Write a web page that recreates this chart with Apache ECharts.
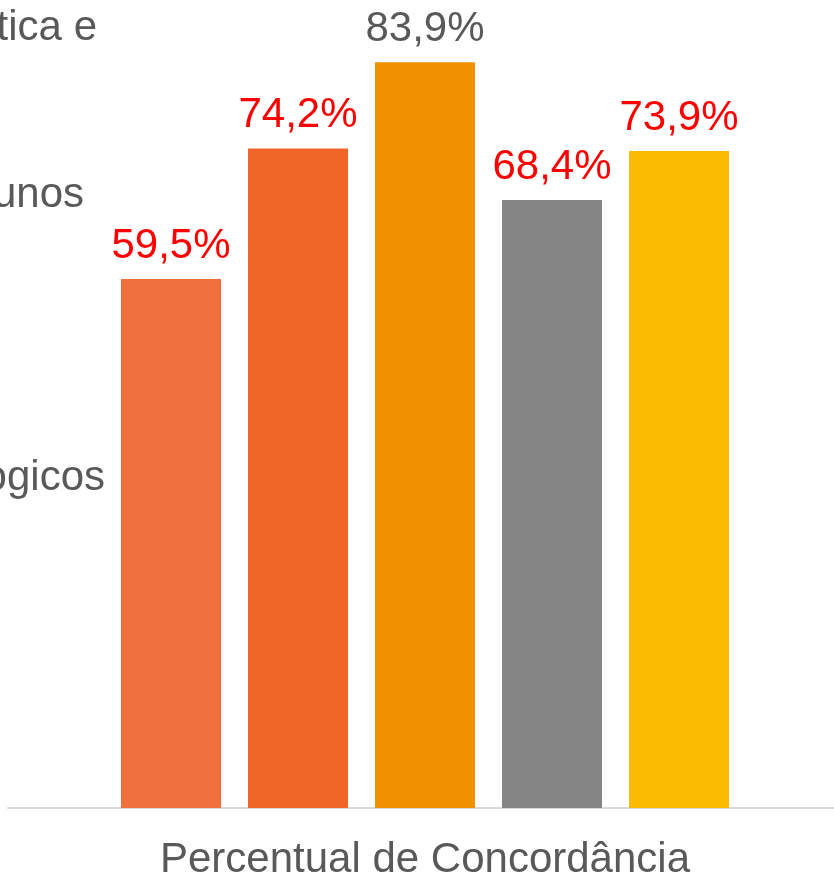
<!DOCTYPE html>
<html>
<head>
<meta charset="utf-8">
<script src="https://cdn.jsdelivr.net/npm/echarts@6/dist/echarts.min.js"></script>
<style>
  html, body { margin: 0; padding: 0; background: #fff; }
  #chart { width: 834px; height: 881px; }
</style>
</head>
<body>
<div id="chart"></div>
<script>
  // dados
  var categories = ['Percentual de Concordância'];
  var values = [59.5, 74.2, 83.9, 68.4, 73.9];
  var barColors = ['#EF6F3E', '#EF6628', '#F19100', '#858585', '#FABB00'];
  var labelColors = ['#FF0000', '#FF0000', '#595959', '#FF0000', '#FF0000'];
  // pedaços da legenda cortados na margem esquerda
  var legendBits = ['tica e', 'unos', 'ogicos'];

  var chart = echarts.init(document.getElementById('chart'));

  var series = values.map(function (v, i) {
    return {
      type: 'bar',
      data: [v],
      barWidth: 100,
      barGap: '27%',
      itemStyle: { color: barColors[i] },
      label: {
        show: true,
        position: 'top',
        distance: 12,
        color: labelColors[i],
        fontSize: 42,
        fontFamily: 'Liberation Sans',
        formatter: function (p) { return p.value.toFixed(1).replace('.', ',') + '%'; }
      }
    };
  });

  var legendStyle = { fill: '#595959', fontSize: 42, fontFamily: 'Liberation Sans', align: 'right', verticalAlign: 'middle' };

  chart.setOption({
    animation: false,
    grid: { left: 8, right: -8, top: 0, bottom: 73, outerBoundsMode: 'none' },
    xAxis: {
      type: 'category',
      data: categories,
      axisTick: { show: false },
      axisLine: { lineStyle: { color: '#D9D9D9', width: 2 } },
      axisLabel: { color: '#595959', fontSize: 42, fontFamily: 'Liberation Sans', margin: 31 }
    },
    yAxis: {
      type: 'value',
      min: 0,
      max: 90.9,
      show: false,
      splitLine: { show: false }
    },
    graphic: [
      { type: 'text', x: 97, y: 28, style: Object.assign({ text: legendBits[0] }, legendStyle) },
      { type: 'text', x: 84, y: 195, style: Object.assign({ text: legendBits[1] }, legendStyle) },
      { type: 'text', x: 105, y: 478, style: Object.assign({ text: legendBits[2] }, legendStyle) }
    ],
    series: series
  });
</script>
</body>
</html>
